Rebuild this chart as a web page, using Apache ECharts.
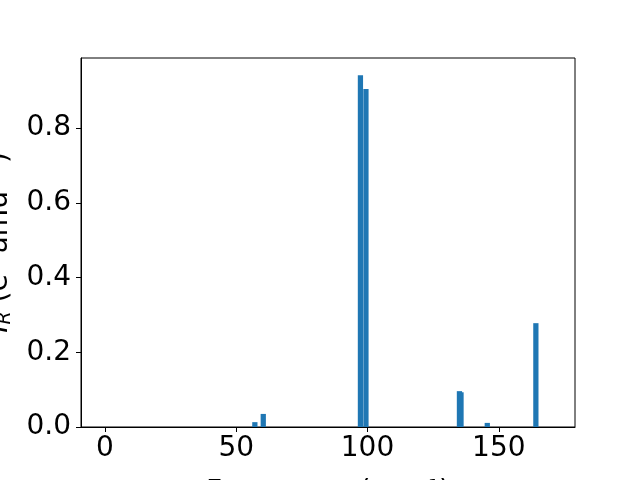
<!DOCTYPE html>
<html>
<head>
<meta charset="utf-8">
<script src="https://cdn.jsdelivr.net/npm/echarts@6/dist/echarts.min.js"></script>
<style>html,body{margin:0;padding:0;background:#fff}#c{width:640px;height:480px}</style>
</head>
<body>
<div id="c"></div>
<script>
const frequencies = [57.1, 60.3, 97.3, 99.4, 135.0, 135.6, 145.6, 164.1];
const intensities = [0.013, 0.035, 0.942, 0.905, 0.096, 0.093, 0.011, 0.278];
const xTicks = [0, 50, 100, 150];
const yTicks = [0.0, 0.2, 0.4, 0.6, 0.8];
const barWidthUnits = 2.0;

const data = frequencies.map((f, i) => [f, intensities[i]]);
const FONT = 'DejaVu Sans';
const FS = 28;
const chart = echarts.init(document.getElementById('c'), null, {renderer: 'canvas'});
chart.setOption({
  animation: false,
  backgroundColor: '#fff',
  grid: {left: 81, right: 65, top: 58, bottom: 53, containLabel: false, outerBoundsMode: 'none',
    show: true, borderColor: '#000', borderWidth: 1, backgroundColor: 'transparent'},
  xAxis: {
    type: 'value', min: -9.1, max: 179,
    name: 'Frequency (cm⁻¹)', nameLocation: 'middle', nameGap: 52,
    nameTextStyle: {fontFamily: FONT, fontSize: FS, color: '#000'},
    axisLine: {show: true, onZero: false, lineStyle: {color: '#000', width: 1}},
    axisTick: {show: true, length: 5, customValues: xTicks, lineStyle: {color: '#000'}},
    axisLabel: {customValues: xTicks, fontFamily: FONT, fontSize: FS, color: '#000', margin: 8},
    splitLine: {show: false}
  },
  yAxis: {
    type: 'value', min: 0, max: 0.988,
    name: '{i|I}{s|R} (e{p|2} amu{p|−1})', nameLocation: 'middle', nameGap: 66,
    nameTextStyle: {fontFamily: FONT, fontSize: FS, color: '#000',
      rich: {
        i: {fontFamily: FONT, fontSize: FS, fontStyle: 'italic', color: '#000'},
        s: {fontFamily: FONT, fontSize: 19, fontStyle: 'italic', color: '#000', verticalAlign: 'bottom', padding: [12, 0, 0, 0]},
        p: {fontFamily: FONT, fontSize: 19, color: '#000', verticalAlign: 'top', padding: [0, 0, 10, 0]}
      }},
    axisLine: {show: true, onZero: false, lineStyle: {color: '#000', width: 1}},
    axisTick: {show: true, length: 5, customValues: yTicks, lineStyle: {color: '#000'}},
    axisLabel: {customValues: yTicks, fontFamily: FONT, fontSize: FS, color: '#000', margin: 10,
      formatter: v => v.toFixed(1)},
    splitLine: {show: false}
  },
  series: [{
    type: 'custom',
    clip: true,
    data: data,
    renderItem: function (params, api) {
      const x = api.value(0), y = api.value(1);
      const p0 = api.coord([x - barWidthUnits / 2, y]);
      const p1 = api.coord([x + barWidthUnits / 2, 0]);
      return {type: 'rect', shape: {x: p0[0], y: p0[1], width: p1[0] - p0[0], height: p1[1] - p0[1]},
        style: {fill: '#1f77b4'}};
    }
  }]
});
</script>
</body>
</html>
